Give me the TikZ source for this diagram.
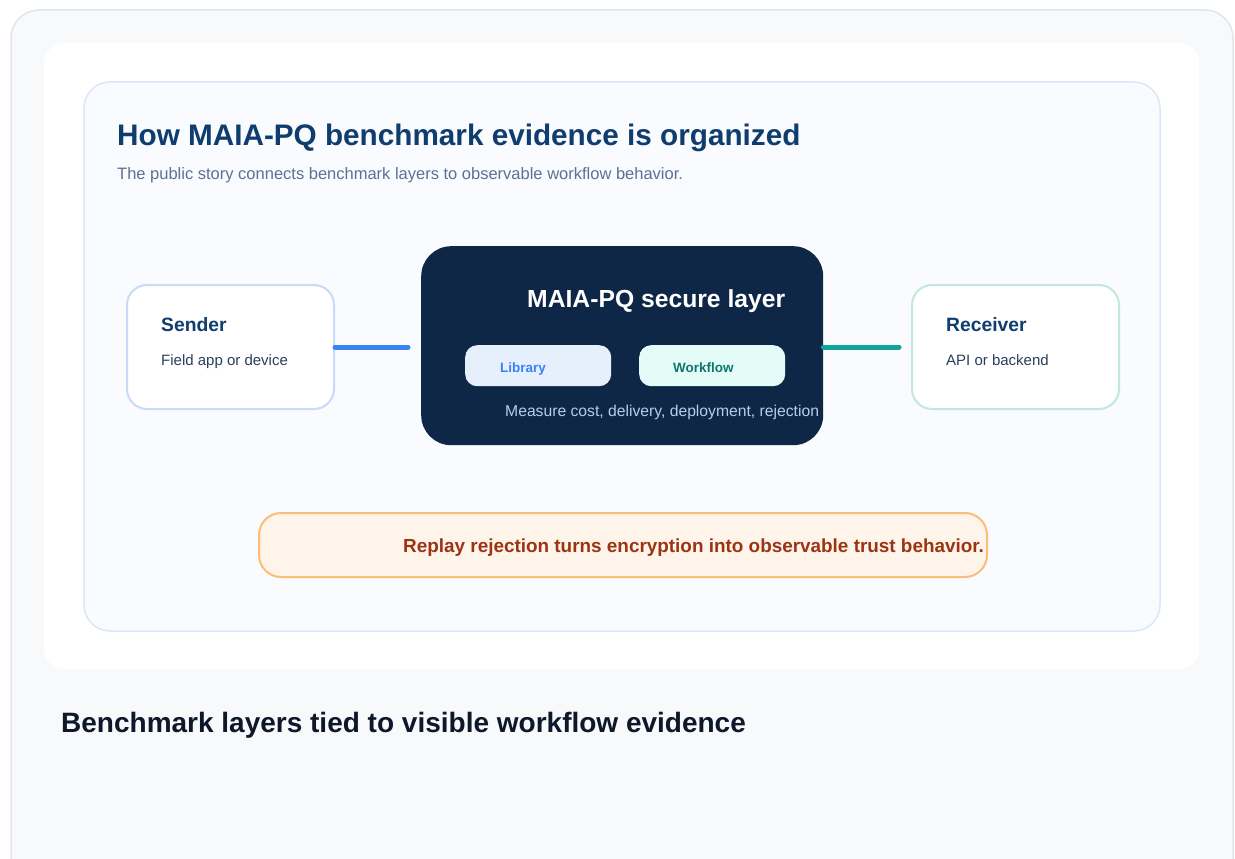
\documentclass[tikz,border=0pt]{standalone}
\usepackage{fontspec}
\setmainfont{Liberation Sans}
\usetikzlibrary{positioning}
\definecolor{pageback}{HTML}{F7F9FB}
\definecolor{pageline}{HTML}{DEE6F0}
\definecolor{panelback}{HTML}{F9FBFE}
\definecolor{panelline}{HTML}{DBE7F8}
\definecolor{headblue}{HTML}{0F3D6E}
\definecolor{subgray}{HTML}{5B7294}
\definecolor{bodyblue}{HTML}{2A3F5C}
\definecolor{sendline}{HTML}{C8DBF8}
\definecolor{recvline}{HTML}{C2E8DE}
\definecolor{linkblue}{HTML}{3B82F6}
\definecolor{linkteal}{HTML}{14A39A}
\definecolor{layernavy}{HTML}{0F2747}
\definecolor{libback}{HTML}{E6F0FD}
\definecolor{flowback}{HTML}{E4FCF7}
\definecolor{flowtext}{HTML}{0F766E}
\definecolor{measuretext}{HTML}{B9CCE8}
\definecolor{noteback}{HTML}{FFF4EA}
\definecolor{noteline}{HTML}{FBBE78}
\definecolor{notetext}{HTML}{9A3412}
\definecolor{captiontext}{HTML}{0F172A}

\begin{document}
\begin{tikzpicture}
[x=1pt, y=-1pt,
 endbox/.style={rounded corners=20pt, fill=white, line width=2pt, anchor=north west, minimum width=207pt, minimum height=124pt, inner sep=0pt},
 pill/.style={rounded corners=12pt, anchor=north west, minimum width=146pt, minimum height=41pt, inner sep=0pt},
 link/.style={line width=5pt, line cap=round},
 lbl/.style={anchor=base west, inner sep=0pt}]
    \useasboundingbox (0,0) rectangle (1235,859);
    % page cards
    \path[fill=pageback, draw=pageline, line width=1.5pt, rounded corners=28pt] (11,10) rectangle (1233,920);
    \path[fill=white, rounded corners=20pt] (44,43) rectangle (1199,669);
    \path[fill=panelback, draw=panelline, line width=1.5pt, rounded corners=26pt] (84,82) rectangle (1160,631);
    % heading
    \node[lbl, text=headblue, font=\bfseries\fontsize{29.7}{34}\selectfont] (T) at (117,145) {How MAIA-PQ benchmark evidence is organized};
    \node[lbl, text=subgray, font=\fontsize{16.5}{19}\selectfont] (ST) at (117,179) {The public story connects benchmark layers to observable workflow behavior.};
    % boxes
    \node[endbox, draw=sendline] (S) at (126,284) {};
    \node[endbox, draw=recvline] (R) at (911,284) {};
    \node[rounded corners=30pt, fill=layernavy, anchor=north west, minimum width=402pt, minimum height=199pt, inner sep=0pt] (L) at (421,246) {};
    \node[pill, fill=libback] (Lib) at (465,345) {};
    \node[pill, fill=flowback] (Flow) at (639,345) {};
    \node[rounded corners=22pt, fill=noteback, draw=noteline, line width=2pt, anchor=north west, minimum width=728pt, minimum height=64pt, inner sep=0pt] (N) at (258,512) {};
    % texts
    \node[lbl, text=headblue, font=\bfseries\fontsize{19.3}{22}\selectfont] (S1) at (161,331) {Sender};
    \node[lbl, text=bodyblue, font=\fontsize{15}{18}\selectfont] (S2) at (161,365) {Field app or device};
    \node[lbl, text=headblue, font=\bfseries\fontsize{19.3}{22}\selectfont] (R1) at (946,331) {Receiver};
    \node[lbl, text=bodyblue, font=\fontsize{15}{18}\selectfont] (R2) at (946,365) {API or backend};
    \node[lbl, text=white, font=\bfseries\fontsize{24.7}{28}\selectfont] (L1) at (527,307) {MAIA-PQ secure layer};
    \node[lbl, text=linkblue, font=\bfseries\fontsize{13.5}{16}\selectfont] (Lib1) at (500,372) {Library};
    \node[lbl, text=flowtext, font=\bfseries\fontsize{13.5}{16}\selectfont] (Flow1) at (673,372) {Workflow};
    \node[lbl, text=measuretext, font=\fontsize{15.7}{18}\selectfont] (M) at (505,416) {Measure cost, delivery, deployment, rejection};
    \node[lbl, text=notetext, font=\bfseries\fontsize{18.9}{22}\selectfont] (N1) at (403,552) {Replay rejection turns encryption into observable trust behavior.};
    \node[lbl, text=captiontext, font=\bfseries\fontsize{28}{32}\selectfont] (C) at (61,732) {Benchmark layers tied to visible workflow evidence};
    % links
    \path[draw, link, linkblue, shorten >=13pt] (S.east) -- (S.east -| L.west);
    \path[draw, link, linkteal, shorten >=12pt] (L.east |- R.west) -- (R.west);
\end{tikzpicture}
\end{document}
